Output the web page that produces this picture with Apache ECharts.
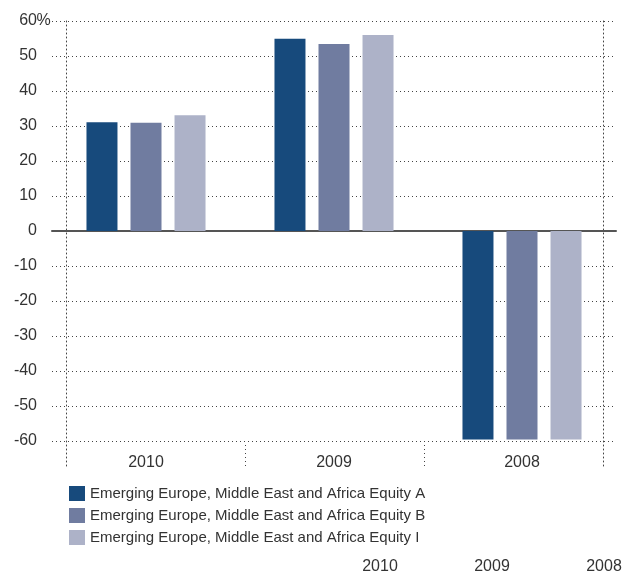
<!DOCTYPE html>
<html>
<head>
<meta charset="utf-8">
<script src="https://cdn.jsdelivr.net/npm/echarts@6/dist/echarts.min.js"></script>
<style>
  html, body { margin: 0; padding: 0; background: #fff; }
  #chart { width: 626px; height: 578px; }
</style>
</head>
<body>
<div id="chart"></div>
<script>
// data
const years = ['2010', '2009', '2008'];
const seriesNames = [
  'Emerging Europe, Middle East and Africa Equity A',
  'Emerging Europe, Middle East and Africa Equity B',
  'Emerging Europe, Middle East and Africa Equity I'
];
const equityA = [31.1, 54.9, -59.6];
const equityB = [30.9, 53.4, -59.6];
const equityI = [33.1, 56.0, -59.6];
const colors = ['#174a7c', '#707ca0', '#adb2c8'];

const font = 'Liberation Sans';
const dotted = { color: '#444', width: 1, type: [1, 3] };

const chart = echarts.init(document.getElementById('chart'));

const values = [equityA, equityB, equityI];
const series = values.map((v, i) => ({
  name: seriesNames[i],
  type: 'bar',
  xAxisIndex: 0,
  yAxisIndex: 0,
  data: v,
  barWidth: 31,
  barGap: '42%',
  itemStyle: { color: colors[i] },
  silent: true,
  z: 3
}));

chart.setOption({
  animation: false,
  color: colors,
  grid: [
    { left: 52, right: 10, top: 21, bottom: 137, outerBoundsMode: 'none' },  // bars
    { left: 66, right: 23, top: 21, bottom: 112, outerBoundsMode: 'none' },  // frame lines and separators
    { left: 324, width: 336, top: 548, height: 2, outerBoundsMode: 'none' }  // stray year labels at the bottom
  ],
  legend: {
    orient: 'vertical',
    left: 64,
    top: 481,
    itemWidth: 16,
    itemHeight: 15,
    itemGap: 7,
    icon: 'rect',
    selectedMode: false,
    textStyle: { fontFamily: font, fontSize: 15, color: '#333' },
    data: seriesNames
  },
  xAxis: [
    {
      gridIndex: 0, type: 'category', data: years,
      axisLine: { onZero: true, lineStyle: { color: '#555', width: 2 } },
      axisTick: { show: false },
      axisLabel: { show: false },
      splitLine: { show: false }
    },
    {
      gridIndex: 0, type: 'category', data: years, position: 'bottom',
      axisLine: { show: false, onZero: false },
      axisTick: { show: false },
      axisLabel: { margin: 14, fontFamily: font, fontSize: 16, color: '#333' }
    },
    {
      gridIndex: 1, type: 'category', data: years,
      axisLine: { show: false },
      axisTick: { show: true, inside: true, length: 24, lineStyle: dotted },
      axisLabel: { show: false }
    },
    {
      gridIndex: 2, type: 'category', data: years,
      axisLine: { show: false },
      axisTick: { show: false },
      axisLabel: { margin: 9, fontFamily: font, fontSize: 16, color: '#333' }
    }
  ],
  yAxis: [
    {
      gridIndex: 0, type: 'value', min: -60, max: 60, interval: 10,
      axisLine: { show: false },
      axisTick: { show: false },
      axisLabel: {
        margin: 2, color: '#333',
        // keep the numbers aligned, let the % hang to the right
        formatter: v => (v === 60 ? '{n|60}{p|%}' : '{n|' + v + '}{p| }'),
        rich: {
          n: { fontFamily: font, fontSize: 16, color: '#333' },
          p: { width: 13, align: 'left', fontFamily: font, fontSize: 16, color: '#333' }
        }
      },
      splitLine: { lineStyle: dotted }
    },
    {
      gridIndex: 1, type: 'value', position: 'left',
      axisLine: { show: true, lineStyle: dotted },
      axisTick: { show: false }, axisLabel: { show: false }, splitLine: { show: false }
    },
    {
      gridIndex: 1, type: 'value', position: 'right',
      axisLine: { show: true, lineStyle: dotted },
      axisTick: { show: false }, axisLabel: { show: false }, splitLine: { show: false }
    },
    {
      gridIndex: 2, type: 'value', show: false
    }
  ],
  series: series
});
</script>
</body>
</html>
